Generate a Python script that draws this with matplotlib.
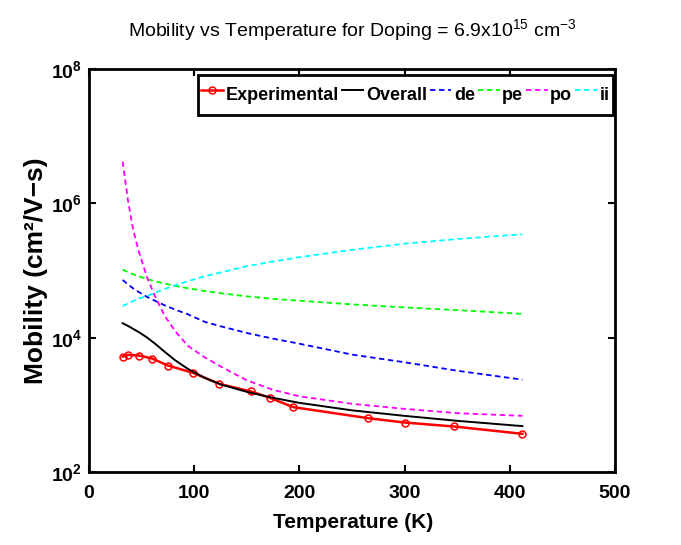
import matplotlib
matplotlib.use("Agg")
import matplotlib.pyplot as plt
from matplotlib.ticker import FixedLocator, NullLocator, FixedFormatter

FAM = ['Liberation Sans', 'DejaVu Sans']
plt.rcParams['font.family'] = FAM
plt.rcParams['mathtext.fontset'] = 'custom'
plt.rcParams['mathtext.rm'] = 'Liberation Sans'
plt.rcParams['mathtext.bf'] = 'Liberation Sans:bold'
plt.rcParams['mathtext.it'] = 'Liberation Sans:italic'

# ---- data ----
T_exp = [32, 37, 48, 60, 75, 99, 124, 154, 172, 194, 265, 300, 347, 412]
mu_exp = [5240, 5540, 5420, 4890, 3850, 2990, 2050, 1580, 1270, 925, 634, 545, 476, 370]

T_model = [32, 37, 42, 47, 55, 63, 72, 82, 94, 110, 125, 150, 175, 200, 250, 300, 350, 412]
mu_overall = [16400, 15000, 13500, 12200, 10100, 8090, 6150, 4590, 3430, 2520, 2020,
              1560, 1270, 1070, 828, 685, 578, 482]
mu_de = [72400, 62100, 54200, 48100, 40600, 35200, 30300, 26100, 22300, 17200, 14800,
         11750, 9660, 8130, 5600, 4300, 3220, 2370]
mu_pe = [103300, 94600, 87900, 82200, 74800, 69000, 63800, 59000, 54400, 49500, 45900,
         41200, 37800, 35500, 31300, 28200, 25700, 22600]
mu_po = [4180000, 1120000, 402000, 200000, 80300, 40400, 21100, 12450, 7550, 5090, 3740,
         2320, 1670, 1340, 1035, 871, 752, 685]
mu_ii = [29500, 32400, 35100, 38000, 41700, 46800, 53100, 60300, 69200, 82200, 93300,
         116000, 136000, 158000, 203000, 251000, 294000, 347000]

series_labels = ['Experimental', 'Overall', 'de', 'pe', 'po', 'ii']
x_ticks = [0, 100, 200, 300, 400, 500]
y_ticks = [1e2, 1e4, 1e6, 1e8]
y_ticklabels = [r'$\mathbf{10^{2}}$', r'$\mathbf{10^{4}}$', r'$\mathbf{10^{6}}$', r'$\mathbf{10^{8}}$']

# ---- figure ----
W, H = 681, 545
fig = plt.figure(figsize=(W / 100, H / 100), dpi=100)
ax = fig.add_axes([89 / W, 73 / H, 526 / W, 403 / H])

ax.plot(T_exp, mu_exp, '-o', color='#ff0000', lw=1.8, ms=5, mfc='none', mew=1.1,
        label=series_labels[0])
ax.plot(T_model, mu_overall, '-', color='black', lw=1.4, label=series_labels[1])
dash = (3, 2)
ax.plot(T_model, mu_de, '--', color='#0000ff', lw=1.3, dashes=dash, label=series_labels[2])
ax.plot(T_model, mu_pe, '--', color='#00ff00', lw=1.3, dashes=dash, label=series_labels[3])
ax.plot(T_model, mu_po, '--', color='#ff00ff', lw=1.3, dashes=dash, label=series_labels[4])
ax.plot(T_model, mu_ii, '--', color='#00ffff', lw=1.3, dashes=dash, label=series_labels[5])

ax.set_yscale('log')
ax.set_xlim(0, 500)
ax.set_ylim(1e2, 1e8)
ax.xaxis.set_major_locator(FixedLocator(x_ticks))
ax.yaxis.set_major_locator(FixedLocator(y_ticks))
ax.yaxis.set_major_formatter(FixedFormatter(y_ticklabels))
ax.yaxis.set_minor_locator(NullLocator())
ax.xaxis.set_minor_locator(NullLocator())
ax.tick_params(direction='in', top=True, right=True, length=5, width=1.5)
ax.tick_params(axis='x', pad=9)
ax.tick_params(axis='y', pad=5)
for lab in ax.get_xticklabels():
    lab.set_fontsize(14)
    lab.set_fontweight('bold')
for lab in ax.get_yticklabels():
    lab.set_fontsize(14)
    lab.set_fontweight('bold')
for sp in ax.spines.values():
    sp.set_linewidth(2)

ax.set_xlabel('Temperature (K)', fontsize=15, fontweight='bold')
ax.xaxis.set_label_coords(0.502, -(513 - 472) / 403)
ax.set_ylabel('Mobility (cm²/V−s)', fontsize=19, fontweight='bold')
ax.yaxis.set_label_coords(-(89 - 48) / 526, 0.5)
fig.text(352 / W, 1 - 30 / H,
         r'Mobility vs Temperature for Doping = 6.9x10$^{15}$ cm$^{-3}$',
         ha='center', va='center', fontsize=14)

leg = ax.legend(loc='upper right', bbox_to_anchor=(613 / W, 1 - 75 / H),
                bbox_transform=fig.transFigure, ncol=6,
                prop={'weight': 'bold', 'size': 13, 'family': FAM},
                handlelength=1.2, handleheight=2.4, handletextpad=0.15,
                columnspacing=0.15, borderpad=0.2, borderaxespad=0,
                fancybox=False, framealpha=1, edgecolor='black')
leg.get_frame().set_linewidth(2)

fig.savefig('out.png', dpi=100)
